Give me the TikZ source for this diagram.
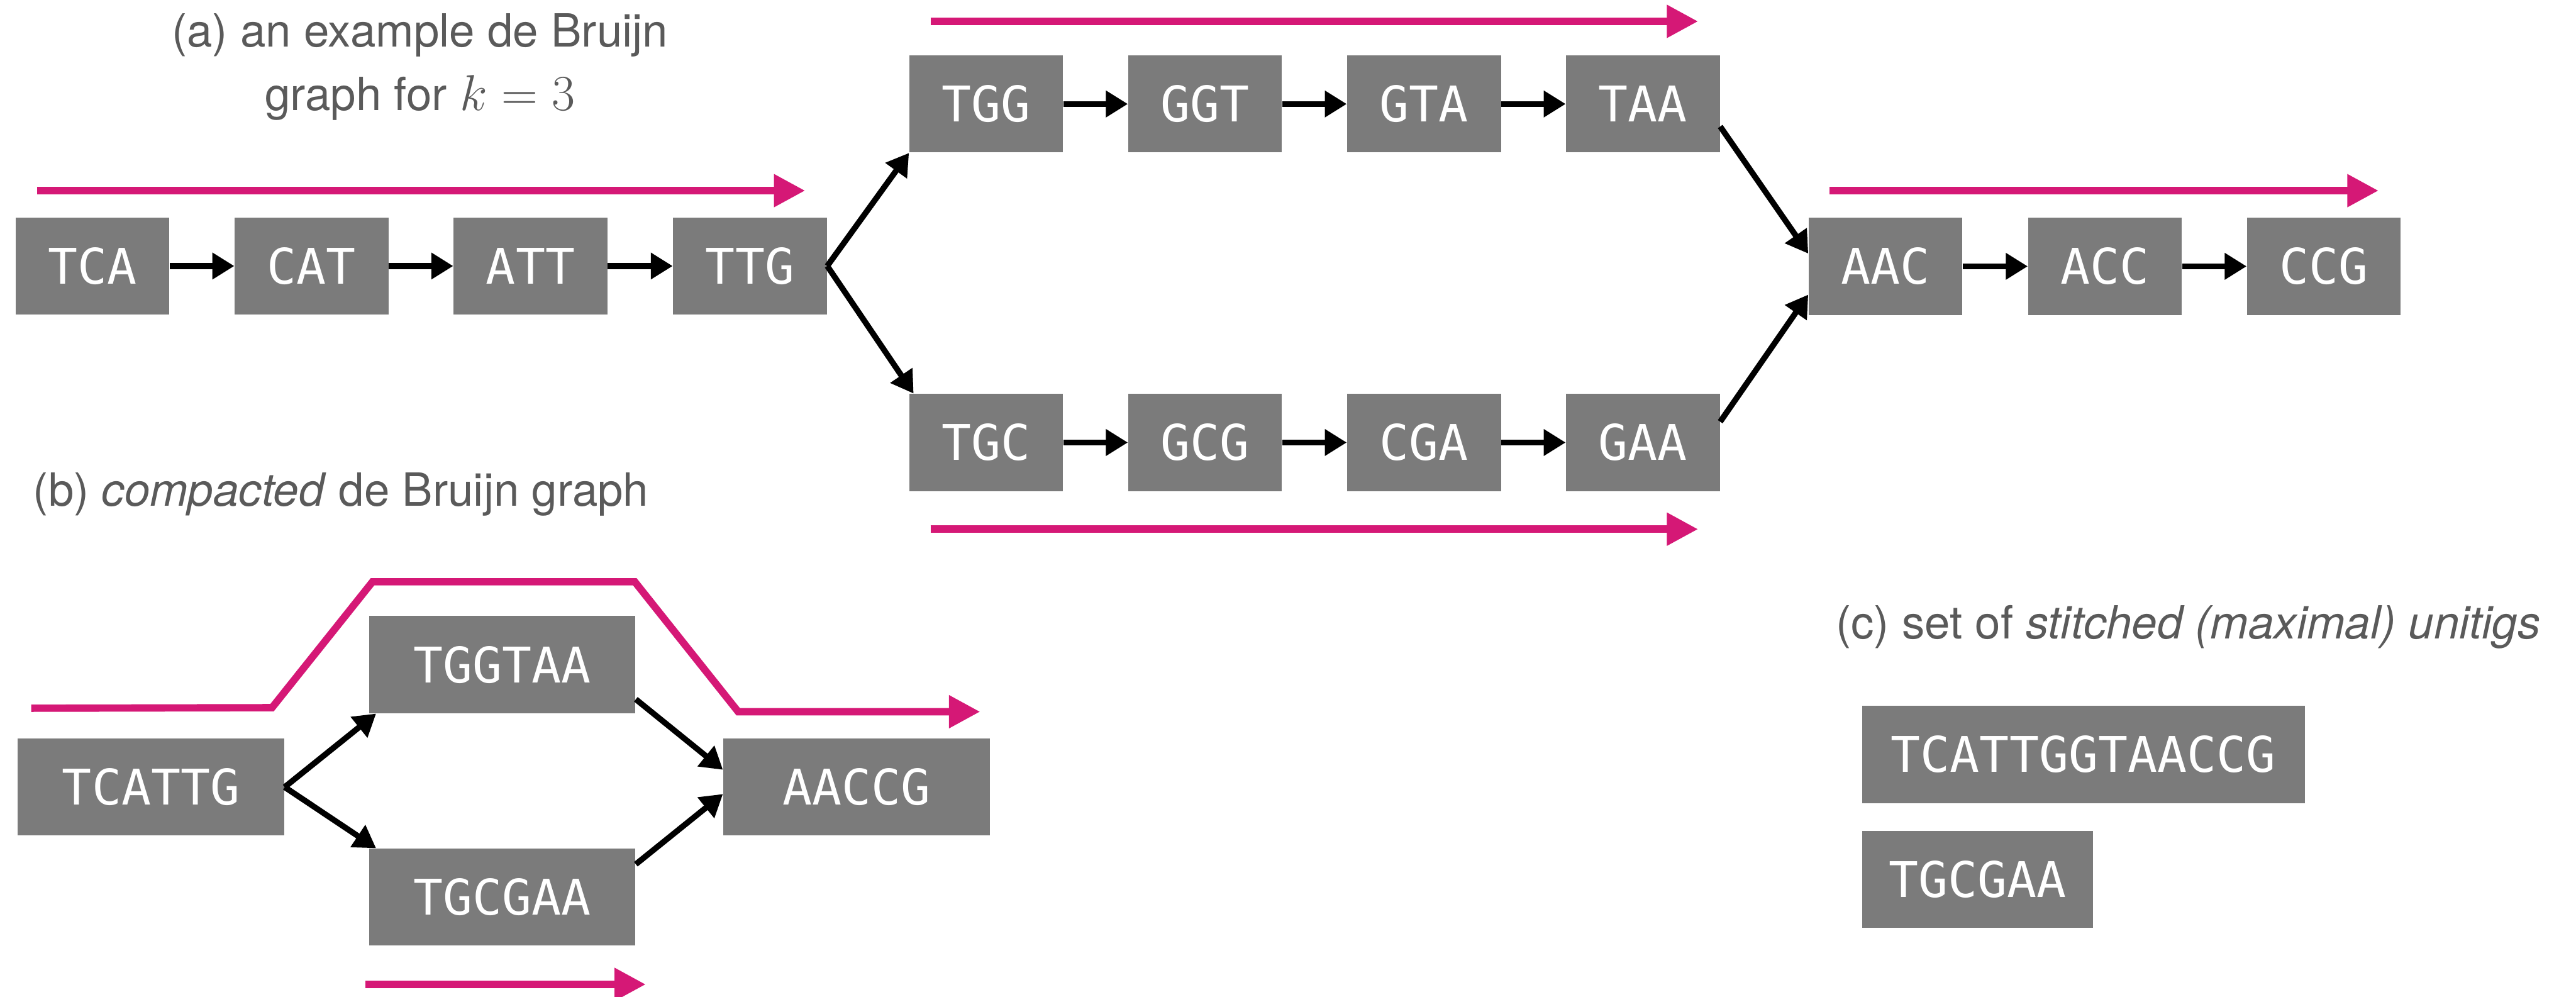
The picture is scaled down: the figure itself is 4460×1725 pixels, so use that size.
\documentclass[tikz,border=0pt]{standalone}
\usepackage{fontspec}
\setmainfont{TeX Gyre Heros}
\newfontfamily\seqfont{DejaVu Sans Mono}
\usetikzlibrary{arrows.meta,calc}
\definecolor{boxgray}{RGB}{123,123,123}
\definecolor{titlegray}{RGB}{90,90,90}
\definecolor{pinkc}{RGB}{213,24,118}
\begin{document}
\begin{tikzpicture}[x=0.01cm,y=-0.01cm,
  kmer/.style={fill=boxgray, text=white, inner sep=0, minimum width=2.66cm, minimum height=1.68cm, font=\seqfont\fontsize{24.2}{24.2}\selectfont},
  unitig/.style={kmer, minimum width=4.61cm},
  edge/.style={line width=2.85pt, -{Triangle[length=0.38cm,width=0.44cm]}},
  walk/.style={draw=pinkc, line width=3.6pt, -{Triangle[length=0.54cm,width=0.54cm]}},
  title/.style={text=titlegray, inner sep=0, font=\fontsize{22.5}{31}\selectfont}]
\useasboundingbox (0,0) rectangle (4460,1725);

% titles
\node[title, anchor=base] (ta1) at (727,81.5) {(a) an example de Bruijn};
\node[title, anchor=base] (ta2) at (727,191) {graph for {\fontsize{26.5}{31}\selectfont$k=3$}};
\node[title, anchor=base west] (tb) at (57,875.5) {(b) \textit{compacted} de Bruijn graph};
\node[title, anchor=base west] (tc) at (3178,1106) {(c) set of \textit{stitched (maximal) unitigs}};

% (a) de Bruijn graph
\node[kmer] (TCA) at (160,460.5) {TCA};
\node[kmer] (CAT) at (539.5,460.5) {CAT};
\node[kmer] (ATT) at (918.5,460.5) {ATT};
\node[kmer] (TTG) at (1298.5,460.5) {TTG};
\node[kmer] (TGG) at (1707.5,180) {TGG};
\node[kmer] (GGT) at (2086.5,180) {GGT};
\node[kmer] (GTA) at (2465.5,180) {GTA};
\node[kmer] (TAA) at (2844.5,180) {TAA};
\node[kmer] (TGC) at (1707.5,766) {TGC};
\node[kmer] (GCG) at (2086.5,766) {GCG};
\node[kmer] (CGA) at (2465.5,766) {CGA};
\node[kmer] (GAA) at (2844.5,766) {GAA};
\node[kmer] (AAC) at (3264.5,461) {AAC};
\node[kmer] (ACC) at (3644.5,461) {ACC};
\node[kmer] (CCG) at (4023.5,461) {CCG};

\draw[edge] (TCA.east) -- (CAT.west);
\draw[edge] (CAT.east) -- (ATT.west);
\draw[edge] (ATT.east) -- (TTG.west);
\draw[edge] (TGG.east) -- (GGT.west);
\draw[edge] (GGT.east) -- (GTA.west);
\draw[edge] (GTA.east) -- (TAA.west);
\draw[edge] (TGC.east) -- (GCG.west);
\draw[edge] (GCG.east) -- (CGA.west);
\draw[edge] (CGA.east) -- (GAA.west);
\draw[edge] (AAC.east) -- (ACC.west);
\draw[edge] (ACC.east) -- (CCG.west);
\draw[edge] (TTG.east) -- (TGG.south west);
\draw[edge] (TTG.east) -- ($(TGC.north west)+(8,0)$);
\draw[edge] ($(TAA.east)+(0,39)$) -- ($(AAC.west)+(0,-22)$);
\draw[edge] ($(GAA.east)+(0,-36)$) -- ($(AAC.west)+(0,49)$);

% walks (a)
\draw[walk] (64,330) -- (1394,330);
\draw[walk] (1611,37) -- (2940,37);
\draw[walk] (1611,916) -- (2940,916);
\draw[walk] (3168,330) -- (4118,330);

% (b) compacted graph
\node[unitig] (TCATTG) at (261.5,1362.5) {TCATTG};
\node[unitig] (TGGTAA) at (869.5,1150.5) {TGGTAA};
\node[unitig] (TGCGAA) at (869.5,1553) {TGCGAA};
\node[unitig] (AACCG) at (1483,1362.5) {AACCG};

\draw[edge] (TCATTG.east) -- ($(TGGTAA.south west)+(13,0)$);
\draw[edge] (TCATTG.east) -- ($(TGCGAA.north west)+(13,0)$);
\draw[edge] ($(TGGTAA.east)+(0,60)$) -- ($(AACCG.west)+(0,-30)$);
\draw[edge] ($(TGCGAA.east)+(0,-57)$) -- ($(AACCG.west)+(0,12)$);

\draw[walk, line join=miter] (54,1226) -- (471,1225) -- (645,1007) -- (1099,1007) -- (1278,1232) -- (1697,1232);
\draw[walk] (633,1704) -- (1118,1704);

% (c) stitched unitigs
\node[kmer, minimum width=7.66cm] (S1) at (3607,1306) {TCATTGGTAACCG};
\node[kmer, minimum width=4.00cm] (S2) at (3424,1522) {TGCGAA};
\end{tikzpicture}
\end{document}
